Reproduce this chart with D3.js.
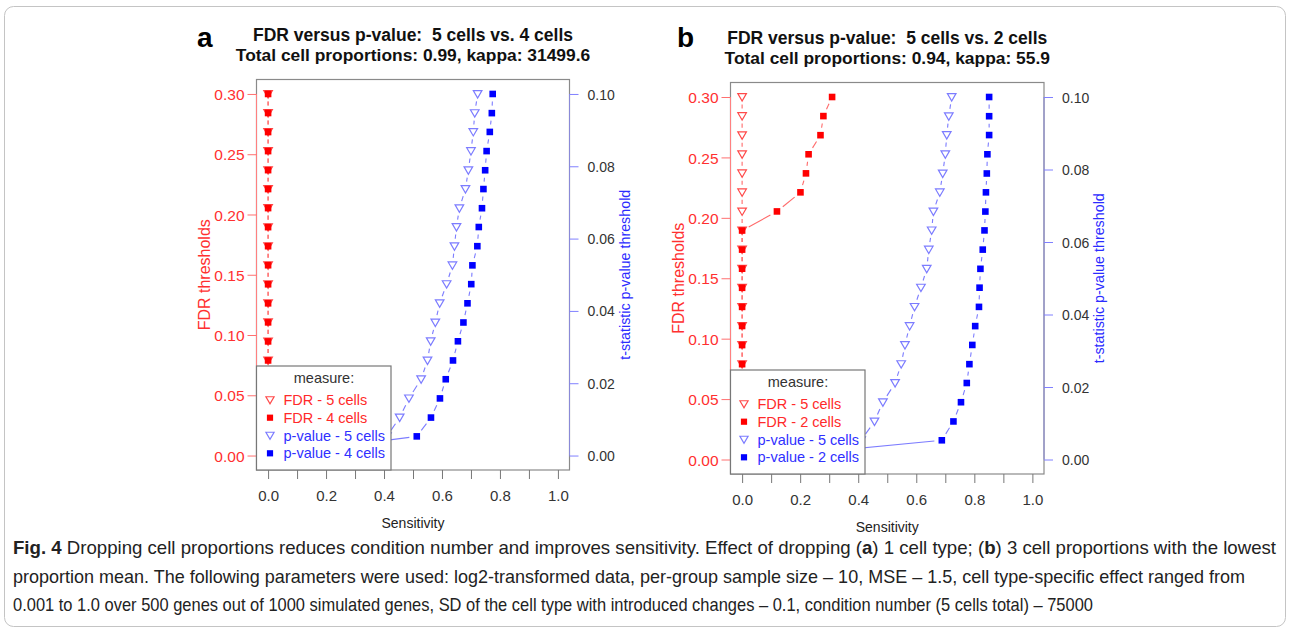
<!DOCTYPE html>
<html>
<head>
<meta charset="utf-8">
<script src="https://cdnjs.cloudflare.com/ajax/libs/d3/7.8.5/d3.min.js"></script>
<style>
    body { margin: 0; background: #fff; }
    text { font-family: "Liberation Sans", Arial, Helvetica, sans-serif; }
</style>
</head>
<body>
<div id="chart"></div>
<script>
// thresholds (left axis = FDR, right axis = p-value)
var fdrThresholds = [0, 0.0158, 0.0316, 0.0474, 0.0632, 0.0789, 0.0947, 0.1105, 0.1263, 0.1421,
    0.1579, 0.1737, 0.1895, 0.2053, 0.2211, 0.2368, 0.2526, 0.2684, 0.2842, 0.3];
var pThresholds = [0, 0.0053, 0.0105, 0.0158, 0.0211, 0.0263, 0.0316, 0.0368, 0.0421, 0.0474,
    0.0526, 0.0579, 0.0632, 0.0684, 0.0737, 0.0789, 0.0842, 0.0895, 0.0947, 0.1];

// sensitivity values
var sensFdr5a = [0, 0, 0, 0, 0, 0, 0, 0, 0, 0, 0, 0, 0, 0, 0, 0, 0, 0, 0, 0];
var sensFdr4a = [0, 0, 0, 0, 0, 0, 0, 0, 0, 0, 0, 0, 0, 0, 0, 0, 0, 0, 0, 0];
var sensP5a = [0, 0.41, 0.454, 0.486, 0.528, 0.550, 0.561, 0.577, 0.592, 0.616,
    0.636, 0.643, 0.650, 0.660, 0.681, 0.691, 0.700, 0.708, 0.713, 0.723];
var sensP4a = [0, 0.513, 0.562, 0.593, 0.613, 0.638, 0.655, 0.674, 0.688, 0.701,
    0.705, 0.722, 0.727, 0.738, 0.743, 0.749, 0.754, 0.765, 0.772, 0.775];

var sensFdr5b = [0, 0, 0, 0, 0, 0, 0, 0, 0, 0, 0, 0, 0, 0, 0, 0, 0, 0, 0, 0];
var sensFdr2b = [0, 0, 0, 0, 0, 0, 0, 0, 0, 0, 0, 0, 0, 0.120, 0.201, 0.220, 0.229, 0.270, 0.280, 0.310];
var sensP5b = [0, 0.41, 0.456, 0.485, 0.527, 0.548, 0.561, 0.577, 0.594, 0.616,
    0.636, 0.643, 0.653, 0.659, 0.681, 0.691, 0.700, 0.705, 0.712, 0.722];
var sensP2b = [0, 0.688, 0.728, 0.754, 0.774, 0.783, 0.793, 0.803, 0.816, 0.818,
    0.821, 0.829, 0.835, 0.838, 0.840, 0.843, 0.845, 0.851, 0.851, 0.851];

var fdrTicks = [0, 0.05, 0.1, 0.15, 0.2, 0.25, 0.3];
var pTicks = [0, 0.02, 0.04, 0.06, 0.08, 0.1];
var sensTicks = [0, 0.1, 0.2, 0.3, 0.4, 0.5, 0.6, 0.7, 0.8, 0.9, 1.0];

var captionLines = [
    [["Fig. 4", true], [" Dropping cell proportions reduces condition number and improves sensitivity. Effect of dropping (", false], ["a", true], [") 1 cell type; (", false], ["b", true], [") 3 cell proportions with the lowest", false]],
    [["proportion mean. The following parameters were used: log2-transformed data, per-group sample size \u2013 10, MSE \u2013 1.5, cell type-specific effect ranged from", false]],
    [["0.001 to 1.0 over 500 genes out of 1000 simulated genes, SD of the cell type with introduced changes \u2013 0.1, condition number (5 cells total) \u2013 75000", false]]
];
var captionWidths = [1263, 1232, 1080];

var RED = "#ff0000", RED_LIGHT = "#ff6a6a", BLUE = "#0000ff", BLUE_LIGHT = "#7c7cff";

var svg = d3.select("#chart")
    .append("svg")
    .attr("width", 1290)
    .attr("height", 634);

// outer frame
svg.append("rect")
    .attr("x", 4.5).attr("y", 6.5)
    .attr("width", 1281).attr("height", 620)
    .attr("rx", 9)
    .attr("fill", "none")
    .attr("stroke", "#c4c4c4");

function trianglePath(s) {
    return "M" + (-4.3 * s) + "," + (-3.4 * s) + "L" + (4.3 * s) + "," + (-3.4 * s) + "L0," + (4 * s) + "Z";
}

function drawPanel(p) {
    var g = svg.append("g");
    var L = p.box[0], T = p.box[1], R = p.box[2], B = p.box[3];

    var x = d3.scaleLinear().domain([-0.04, 1.04]).range([L, R]);
    var yL = d3.scaleLinear().domain([-0.012, 0.312]).range([B, T]);
    var yR = d3.scaleLinear().domain([-0.004, 0.104]).range([B, T]);

    // series: draw like R type="b" (segments with gaps round the points)
    p.series.forEach(function (s) {
        var y = s.axis == "left" ? yL : yR;
        var pts = s.values.map(function (v, i) {
            return [x(v), y(s.thr[i])];
        });
        var gap = 7.5;
        for (var i = 0; i < pts.length - 1; i++) {
            var a = pts[i], b = pts[i + 1];
            var dx = b[0] - a[0], dy = b[1] - a[1];
            var len = Math.sqrt(dx * dx + dy * dy);
            if (len <= gap * 2) continue;
            var ux = dx / len, uy = dy / len;
            g.append("line")
                .attr("x1", a[0] + ux * gap).attr("y1", a[1] + uy * gap)
                .attr("x2", b[0] - ux * gap).attr("y2", b[1] - uy * gap)
                .attr("stroke", s.lineColor)
                .attr("stroke-width", 1.1);
        }
        g.selectAll(null)
            .data(pts)
            .enter()
            .append("path")
            .attr("transform", function (d) { return "translate(" + d[0] + "," + d[1] + ")"; })
            .attr("d", s.shape == "tri" ? trianglePath(1) : "M-3.3,-3.3h6.6v6.6h-6.6Z")
            .attr("fill", s.shape == "tri" ? "none" : s.color)
            .attr("stroke", s.color)
            .attr("stroke-width", s.shape == "tri" ? 1.2 : 0);
    });

    // box
    g.append("rect")
        .attr("x", L).attr("y", T)
        .attr("width", R - L).attr("height", B - T)
        .attr("fill", "none")
        .attr("stroke", "#8a8a8a")
        .attr("stroke-width", 1.2);

    // left axis (FDR)
    var la = g.append("g")
        .attr("transform", "translate(" + L + ",0)")
        .call(d3.axisLeft(yL).tickValues(fdrTicks).tickSize(9).tickPadding(3).tickFormat(d3.format(".2f")));
    la.select(".domain").attr("stroke", "#ff8080").attr("d", "M0," + yL(0) + "V" + yL(0.3));
    la.selectAll(".tick line").attr("stroke", "#ff7070");
    la.selectAll(".tick text")
        .attr("fill", "#ff3030")
        .style("font-size", "15.5px")
        .attr("dy", "0.36em");

    g.append("text")
        .attr("transform", "translate(" + (L - 47) + "," + ((T + B) / 2) + ")rotate(-90)")
        .attr("text-anchor", "middle")
        .attr("fill", "#ff3030")
        .style("font-size", "16px")
        .text("FDR thresholds");

    // right axis (p-value)
    var ra = g.append("g")
        .attr("transform", "translate(" + R + ",0)")
        .call(d3.axisRight(yR).tickValues(pTicks).tickSize(9).tickPadding(9).tickFormat(d3.format(".2f")));
    ra.select(".domain").attr("stroke", "#8a8ad8").attr("d", "M0," + yR(0) + "V" + yR(0.1));
    ra.selectAll(".tick line").attr("stroke", "#8080ff");
    ra.selectAll(".tick text")
        .attr("fill", "#333")
        .style("font-size", "14px")
        .attr("dy", "0.36em");

    g.append("text")
        .attr("transform", "translate(" + (R + 60) + "," + ((T + B) / 2) + ")rotate(-90)")
        .attr("text-anchor", "middle")
        .attr("fill", "#2b2bff")
        .style("font-size", "14.3px")
        .text("t-statistic p-value threshold");

    // bottom axis
    var ba = g.append("g")
        .attr("transform", "translate(0," + B + ")")
        .call(d3.axisBottom(x).tickValues(sensTicks).tickSize(9).tickPadding(11)
            .tickFormat(function (d, i) { return i % 2 == 0 ? d3.format(".1f")(d) : ""; }));
    ba.select(".domain").remove();
    ba.selectAll(".tick line").attr("stroke", "#777");
    ba.selectAll(".tick text")
        .attr("fill", "#333")
        .style("font-size", "15px");

    g.append("text")
        .attr("x", (L + R) / 2).attr("y", B + 58)
        .attr("text-anchor", "middle")
        .attr("fill", "#222")
        .style("font-size", "14px")
        .text("Sensitivity");

    // titles
    g.append("text")
        .attr("x", (L + R) / 2).attr("y", T - 39)
        .attr("text-anchor", "middle")
        .attr("fill", "#111")
        .style("font-size", "17.5px").style("font-weight", "bold").style("white-space", "pre")
        .text(p.title1);
    g.append("text")
        .attr("x", (L + R) / 2).attr("y", T - 19)
        .attr("text-anchor", "middle")
        .attr("fill", "#111")
        .style("font-size", "17.4px").style("font-weight", "bold")
        .text(p.title2);
    g.append("text")
        .attr("x", p.letterX).attr("y", 47)
        .attr("fill", "#000")
        .style("font-size", "28px").style("font-weight", "bold")
        .text(p.letter);

    // legend
    var lg = g.append("g").attr("transform", "translate(" + L + "," + (B - 104) + ")");
    lg.append("rect")
        .attr("width", 134.5).attr("height", 104)
        .attr("fill", "#fff")
        .attr("stroke", "#777")
        .attr("stroke-width", 1.2);
    lg.append("text")
        .attr("x", 67.5).attr("y", 17)
        .attr("text-anchor", "middle")
        .attr("fill", "#333")
        .style("font-size", "14.5px")
        .text("measure:");
    var rowY = [39, 56.7, 74.5, 92.3];
    p.series.forEach(function (s, i) {
        lg.append("path")
            .attr("transform", "translate(13.5," + (rowY[i] - 5) + ")")
            .attr("d", s.shape == "tri" ? trianglePath(0.95) : "M-3.1,-3.1h6.2v6.2h-6.2Z")
            .attr("fill", s.shape == "tri" ? "none" : s.color)
            .attr("stroke", s.color)
            .attr("stroke-width", s.shape == "tri" ? 1.2 : 0);
        lg.append("text")
            .attr("x", 27).attr("y", rowY[i])
            .attr("fill", s.textColor)
            .style("font-size", "14.5px")
            .text(s.name);
    });
}

drawPanel({
    box: [256.5, 79.5, 569.5, 470],
    letter: "a", letterX: 197,
    title1: "FDR versus p-value:  5 cells vs. 4 cells",
    title2: "Total cell proportions: 0.99, kappa: 31499.6",
    series: [
        { name: "FDR - 5 cells", values: sensFdr5a, thr: fdrThresholds, axis: "left", shape: "tri", color: "#ff4a4a", lineColor: RED_LIGHT, textColor: "#ff2a2a" },
        { name: "FDR - 4 cells", values: sensFdr4a, thr: fdrThresholds, axis: "left", shape: "sq", color: RED, lineColor: RED_LIGHT, textColor: "#ff2a2a" },
        { name: "p-value - 5 cells", values: sensP5a, thr: pThresholds, axis: "right", shape: "tri", color: BLUE_LIGHT, lineColor: BLUE_LIGHT, textColor: "#3030ff" },
        { name: "p-value - 4 cells", values: sensP4a, thr: pThresholds, axis: "right", shape: "sq", color: BLUE, lineColor: BLUE_LIGHT, textColor: "#3030ff" }
    ]
});

drawPanel({
    box: [730.5, 82.5, 1044, 474],
    letter: "b", letterX: 677,
    title1: "FDR versus p-value:  5 cells vs. 2 cells",
    title2: "Total cell proportions: 0.94, kappa: 55.9",
    series: [
        { name: "FDR - 5 cells", values: sensFdr5b, thr: fdrThresholds, axis: "left", shape: "tri", color: "#ff4a4a", lineColor: RED_LIGHT, textColor: "#ff2a2a" },
        { name: "FDR - 2 cells", values: sensFdr2b, thr: fdrThresholds, axis: "left", shape: "sq", color: RED, lineColor: RED_LIGHT, textColor: "#ff2a2a" },
        { name: "p-value - 5 cells", values: sensP5b, thr: pThresholds, axis: "right", shape: "tri", color: BLUE_LIGHT, lineColor: BLUE_LIGHT, textColor: "#3030ff" },
        { name: "p-value - 2 cells", values: sensP2b, thr: pThresholds, axis: "right", shape: "sq", color: BLUE, lineColor: BLUE_LIGHT, textColor: "#3030ff" }
    ]
});

// caption (condensed look via textLength)
var cap = svg.append("g");
captionLines.forEach(function (line, i) {
    var t = cap.append("text")
        .attr("x", 13).attr("y", 554 + i * 28.5)
        .attr("fill", "#222")
        .attr("textLength", captionWidths[i])
        .attr("lengthAdjust", "spacingAndGlyphs")
        .style("font-size", "18.5px");
    line.forEach(function (part) {
        t.append("tspan")
            .style("font-weight", part[1] ? "bold" : "normal")
            .text(part[0]);
    });
});
</script>
</body>
</html>
